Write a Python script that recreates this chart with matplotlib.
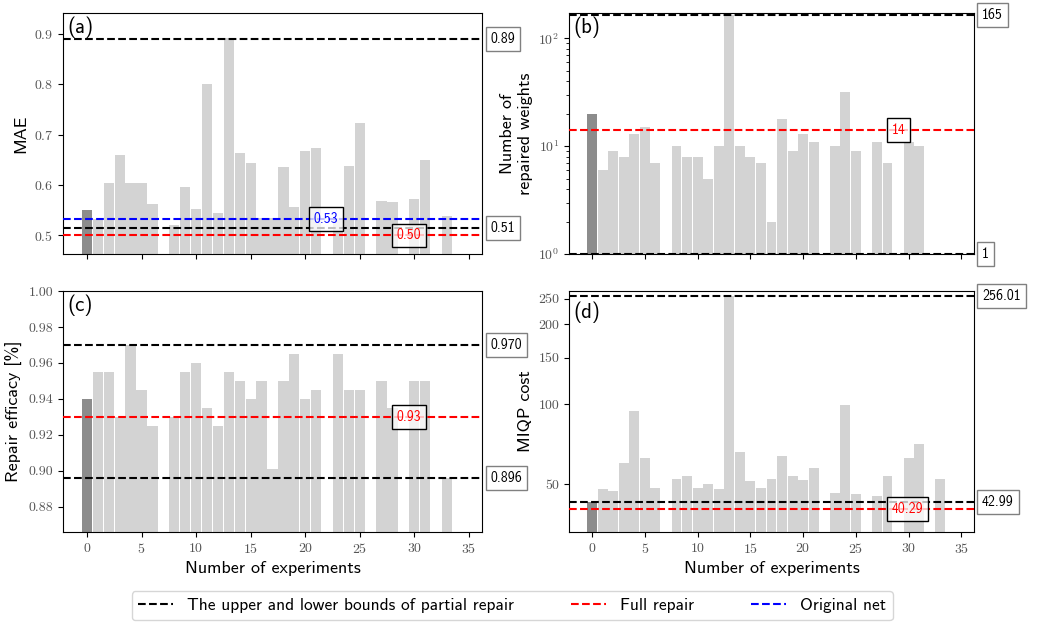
import numpy as np
import matplotlib
matplotlib.use("Agg")
import matplotlib.pyplot as plt
from matplotlib.lines import Line2D
from matplotlib.ticker import NullLocator, FixedLocator, FixedFormatter

plt.rcParams["font.family"] = "cmr10"
plt.rcParams["mathtext.fontset"] = "cm"
plt.rcParams["axes.formatter.use_mathtext"] = True

SANS = "cmss10"
nan = np.nan

experiments = np.arange(35)

# MAE per experiment (nan = no result)
mae = [0.550, 0.532, 0.604, 0.660, 0.604, 0.604, 0.563, nan, 0.520, 0.595,
       0.552, 0.801, 0.545, 0.892, 0.663, 0.643, 0.535, 0.535, 0.636, 0.556,
       0.667, 0.674, nan, 0.535, 0.637, 0.722, nan, 0.568, 0.567, nan,
       0.572, 0.649, nan, 0.538, nan]
# number of repaired weights
n_weights = [20, 6, 9, 8, 13, 15, 7, nan, 10, 8,
             8, 5, 10, 165, 10, 8, 7, 2, 18, 9,
             13, 11, nan, 10, 32, 9, nan, 11, 7, nan,
             11, 10, nan, 1, nan]
# repair efficacy
efficacy = [0.940, 0.955, 0.955, 0.930, 0.970, 0.945, 0.925, nan, 0.930, 0.955,
            0.960, 0.935, 0.925, 0.955, 0.950, 0.940, 0.950, 0.901, 0.950, 0.965,
            0.940, 0.945, nan, 0.965, 0.945, 0.945, nan, 0.950, 0.935, nan,
            0.950, 0.950, nan, 0.896, nan]
# MIQP cost
miqp = [42.99, 48.2, 47.3, 60.3, 94.7, 62.6, 48.3, nan, 52.2, 53.6,
        48.3, 50.3, 47.9, 256.01, 66.0, 51.3, 48.3, 52.2, 63.9, 53.9,
        52.1, 57.8, nan, 46.6, 99.1, 46.2, nan, 45.3, 53.9, nan,
        62.6, 71.1, nan, 52.5, nan]

# reference lines: (upper bound, lower bound), full repair, original net
mae_bounds, mae_full, mae_orig = (0.89, 0.514), 0.50, 0.533
w_bounds, w_full = (165, 1), 14
eff_bounds, eff_full = (0.970, 0.896), 0.93
miqp_bounds, miqp_full = (256.01, 42.99), 40.29

bound_labels = {"mae": ("0.89", "0.51"), "w": ("165", "1"),
                "eff": ("0.970", "0.896"), "miqp": ("256.01", "42.99")}

bar_colors = ["#8c8c8c"] + ["#d3d3d3"] * 34


def side_box(ax, y, txt):
    ax.text(1.02, y, txt, transform=ax.get_yaxis_transform(), ha="left",
            va="center", fontsize=10, family=SANS, clip_on=False,
            bbox=dict(boxstyle="square,pad=0.35", fc="white", ec="gray"))


def in_box(ax, x, y, txt, color, alpha=1.0):
    ax.text(x, y, txt, ha="left", va="center", fontsize=10, family=SANS,
            color=color, zorder=5,
            bbox=dict(boxstyle="square,pad=0.35", fc=(1, 1, 1, alpha), ec="black"))


def panel(ax, vals, bounds, blabels, full, full_lab, letter, lpos):
    ax.bar(experiments, vals, width=0.94, color=bar_colors, zorder=1)
    for b, lab in zip(bounds, blabels):
        ax.axhline(b, color="black", ls="--", lw=1.5, zorder=3)
        side_box(ax, b, lab)
    ax.axhline(full, color="red", ls="--", lw=1.5, zorder=3)
    in_box(ax, 28.4, full, full_lab, "red", 0.75)
    ax.set_xlim(-2.2, 36.2)
    ax.set_xticks(np.arange(0, 36, 5))
    ax.text(lpos[0], lpos[1], letter, transform=ax.transAxes, ha="left",
            va="top", fontsize=15, family=SANS, zorder=6)
    ax.tick_params(labelsize=10, labelcolor="#555")


fig = plt.figure(figsize=(10.39, 6.22), dpi=100)
ax_a = fig.add_axes([0.0606, 0.5916, 0.4033, 0.3875])
ax_b = fig.add_axes([0.5476, 0.5916, 0.3898, 0.3875])
ax_c = fig.add_axes([0.0606, 0.1447, 0.4033, 0.3875])
ax_d = fig.add_axes([0.5476, 0.1447, 0.3898, 0.3875])

# (a) MAE
panel(ax_a, mae, mae_bounds, bound_labels["mae"], mae_full, "0.50", "(a)", (0.01, 0.985))
ax_a.axhline(mae_orig, color="blue", ls="--", lw=1.5, zorder=3)
in_box(ax_a, 20.8, mae_orig, "0.53", "blue", 0.75)
ax_a.set_ylim(0.463, 0.941)
ax_a.set_yticks([0.5, 0.6, 0.7, 0.8, 0.9])
ax_a.set_ylabel("MAE", family=SANS, fontsize=13)
ax_a.tick_params(axis="x", labelbottom=False)

# (b) repaired weights (log)
ax_b.set_yscale("log")
panel(ax_b, n_weights, w_bounds, bound_labels["w"], w_full, "14", "(b)", (0.01, 0.985))
ax_b.set_ylim(1, 171)
ax_b.set_ylabel("Number of\nrepaired weights", family=SANS, fontsize=13)
ax_b.tick_params(axis="x", labelbottom=False)

# (c) repair efficacy
panel(ax_c, efficacy, eff_bounds, bound_labels["eff"], eff_full, "0.93", "(c)", (0.01, 0.985))
ax_c.set_ylim(0.866, 1.0)
ax_c.set_yticks([0.88, 0.90, 0.92, 0.94, 0.96, 0.98, 1.00])
ax_c.set_yticklabels(["0.88", "0.90", "0.92", "0.94", "0.96", "0.98", "1.00"])
ax_c.set_ylabel("Repair efficacy [%]", family=SANS, fontsize=13)
ax_c.set_xlabel("Number of experiments", family=SANS, fontsize=13)

# (d) MIQP cost (log)
ax_d.set_yscale("log")
panel(ax_d, miqp, miqp_bounds, bound_labels["miqp"], miqp_full, "40.29", "(d)", (0.01, 0.955))
ax_d.set_ylim(33.1, 267)
ax_d.yaxis.set_major_locator(FixedLocator([50, 100, 150, 200, 250]))
ax_d.yaxis.set_major_formatter(FixedFormatter(["50", "100", "150", "200", "250"]))
ax_d.yaxis.set_minor_locator(NullLocator())
ax_d.set_ylabel("MIQP cost", family=SANS, fontsize=13)
ax_d.set_xlabel("Number of experiments", family=SANS, fontsize=13)

handles = [Line2D([], [], color="black", ls="--", lw=1.5),
           Line2D([], [], color="red", ls="--", lw=1.5),
           Line2D([], [], color="blue", ls="--", lw=1.5)]
labels = ["The upper and lower bounds of partial repair", "Full repair", "Original net"]
fig.legend(handles, labels, loc="lower center", bbox_to_anchor=(0.493, -0.011),
           ncol=3, prop={"family": SANS, "size": 12.5}, columnspacing=3.3)

fig.savefig("out.png", dpi=100)
